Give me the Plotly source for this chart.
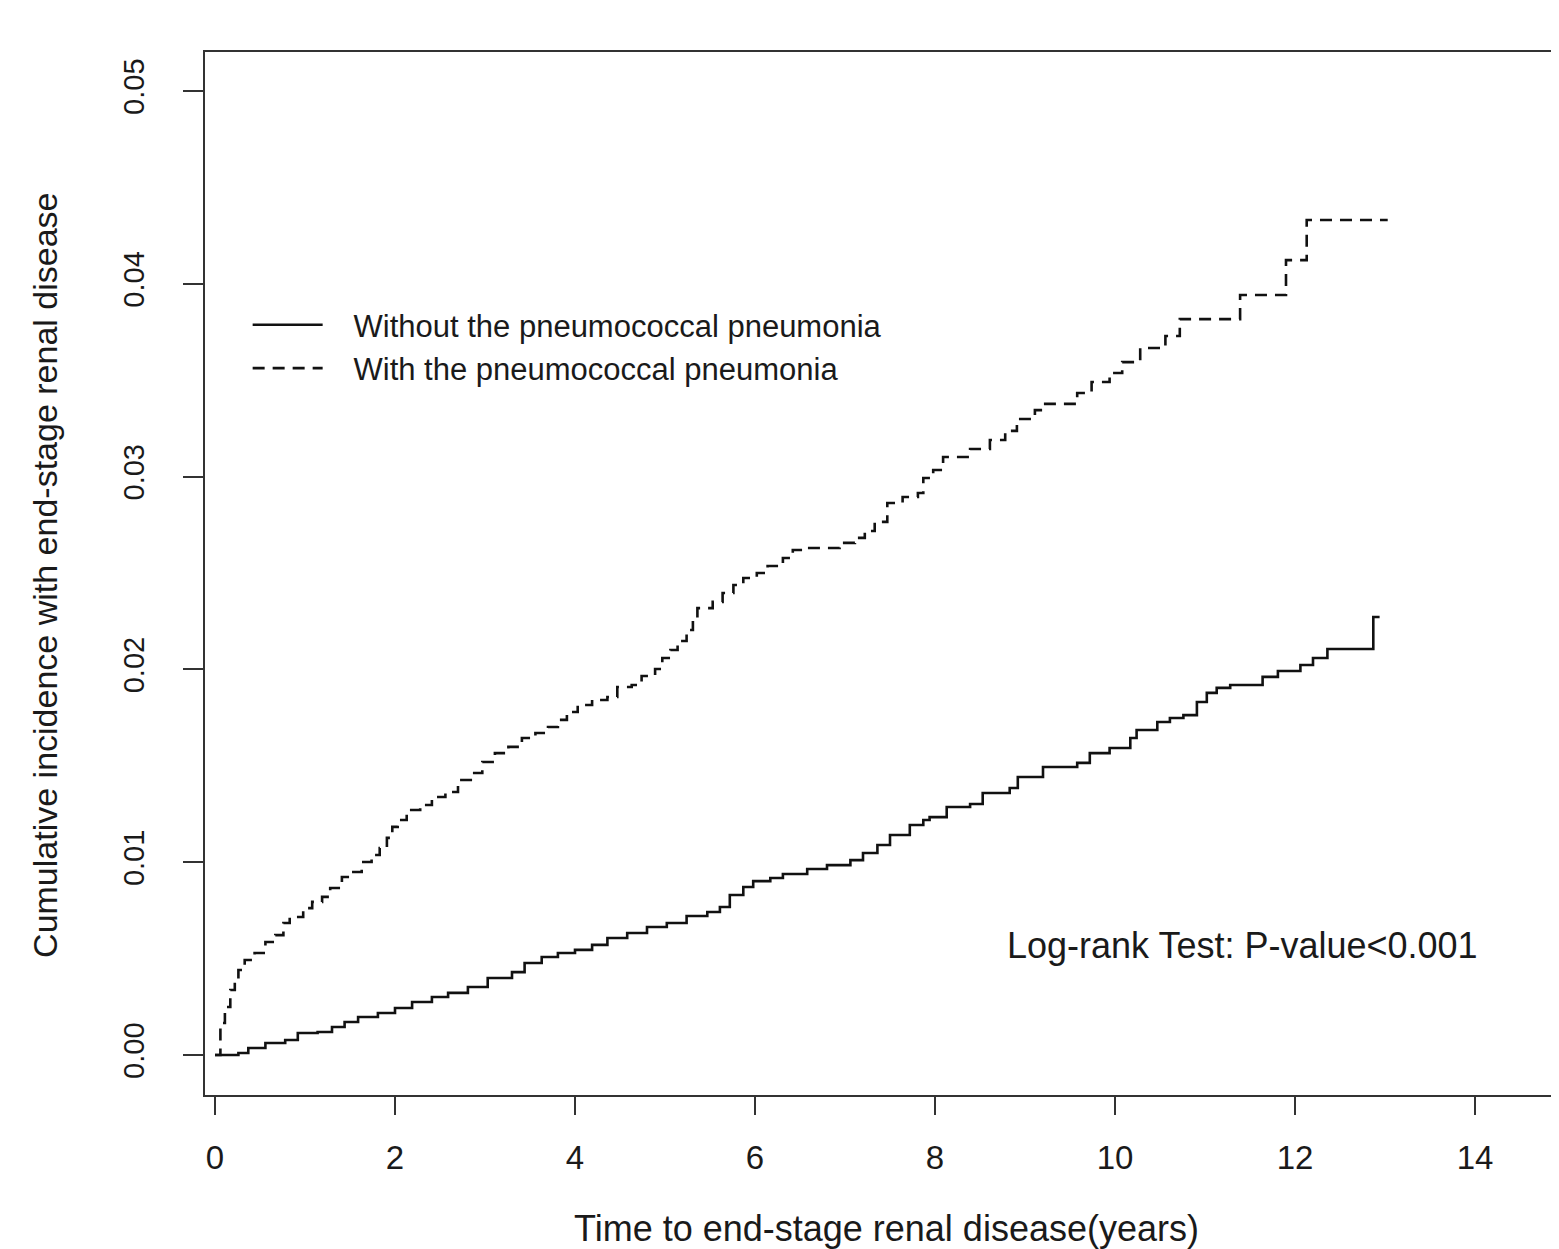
import plotly.graph_objects as go

# ---- data (time in years, cumulative incidence) ----
with_time = [0.0, 0.02, 0.06, 0.11, 0.17, 0.22, 0.26, 0.33, 0.44, 0.56, 0.67, 0.76, 0.83,
             0.98, 1.08, 1.19, 1.28, 1.41, 1.52, 1.63, 1.74, 1.83, 1.91, 1.97, 2.03, 2.13,
             2.28, 2.41, 2.56, 2.70, 2.86, 2.97, 3.11, 3.26, 3.41, 3.56, 3.70, 3.81, 3.91,
             4.03, 4.19, 4.36, 4.47, 4.63, 4.74, 4.89, 4.97, 5.06, 5.14, 5.24, 5.31, 5.36,
             5.53, 5.64, 5.76, 5.87, 6.02, 6.14, 6.31, 6.42, 6.58, 6.94, 7.11, 7.22, 7.33,
             7.47, 7.64, 7.81, 7.87, 7.98, 8.09, 8.39, 8.61, 8.78, 8.91, 9.11, 9.20, 9.58,
             9.74, 9.94, 10.08, 10.28, 10.56, 10.72, 11.39, 11.90, 12.13, 13.03]
with_inc = [0.0, 0.0, 0.00166, 0.00249, 0.00337, 0.00389, 0.00441, 0.00493, 0.00529,
            0.00586, 0.00622, 0.00685, 0.00716, 0.00762, 0.00794, 0.00820, 0.00866, 0.00923,
            0.00949, 0.01001, 0.01037, 0.01074, 0.01126, 0.01183, 0.01219, 0.01271, 0.01297,
            0.01338, 0.01364, 0.01426, 0.01463, 0.01520, 0.01566, 0.01598, 0.01644, 0.01670,
            0.01701, 0.01738, 0.01779, 0.01815, 0.01841, 0.01857, 0.01909, 0.01919, 0.01966,
            0.02002, 0.02059, 0.02101, 0.02147, 0.02204, 0.02267, 0.02318, 0.02350, 0.02396,
            0.02438, 0.02474, 0.02500, 0.02536, 0.02578, 0.02619, 0.02630, 0.02656, 0.02682,
            0.02718, 0.02765, 0.02863, 0.02894, 0.02915, 0.02993, 0.03034, 0.03102, 0.03143,
            0.03190, 0.03237, 0.03299, 0.03345, 0.03377, 0.03434, 0.03491, 0.03537, 0.03594,
            0.03667, 0.03729, 0.03817, 0.03942, 0.04123, 0.04331, 0.04331]

without_time = [0.0, 0.02, 0.26, 0.37, 0.56, 0.78, 0.92, 1.14, 1.30, 1.44, 1.59, 1.81, 2.00,
                2.19, 2.41, 2.59, 2.81, 3.03, 3.30, 3.44, 3.63, 3.81, 4.00, 4.19, 4.36, 4.58,
                4.80, 5.02, 5.24, 5.47, 5.61, 5.72, 5.87, 5.98, 6.17, 6.31, 6.58, 6.80, 7.06,
                7.20, 7.36, 7.50, 7.72, 7.87, 7.94, 8.13, 8.39, 8.53, 8.83, 8.92, 9.20, 9.58,
                9.72, 9.94, 10.17, 10.24, 10.47, 10.61, 10.76, 10.91, 11.02, 11.13, 11.28,
                11.64, 11.81, 12.06, 12.20, 12.36, 12.87, 12.94]
without_inc = [0.0, 0.0, 0.00010, 0.00036, 0.00062, 0.00078, 0.00114, 0.00119, 0.00145,
               0.00171, 0.00197, 0.00218, 0.00244, 0.00275, 0.00301, 0.00322, 0.00353,
               0.00399, 0.00430, 0.00477, 0.00508, 0.00529, 0.00545, 0.00571, 0.00607,
               0.00633, 0.00664, 0.00685, 0.00721, 0.00742, 0.00768, 0.00830, 0.00871,
               0.00902, 0.00918, 0.00939, 0.00965, 0.00985, 0.01011, 0.01048, 0.01089,
               0.01141, 0.01193, 0.01219, 0.01234, 0.01286, 0.01302, 0.01359, 0.01385,
               0.01442, 0.01494, 0.01515, 0.01566, 0.01592, 0.01644, 0.01686, 0.01727,
               0.01748, 0.01763, 0.01831, 0.01878, 0.01904, 0.01919, 0.01961, 0.01992,
               0.02023, 0.02059, 0.02106, 0.02272, 0.02272]

x_ticks = [0, 2, 4, 6, 8, 10, 12, 14]
y_ticks = [0.00, 0.01, 0.02, 0.03, 0.04, 0.05]

label_without = "Without the pneumococcal pneumonia"
label_with = "With the pneumococcal pneumonia"
x_title = "Time to end-stage renal disease(years)"
y_title = "Cumulative incidence with end-stage renal disease"
test_text = "Log-rank Test: P-value<0.001"

FONT = "Liberation Sans, Arial, sans-serif"
INK = "#1a1a1a"
PAD = "\u00a0\u00a0\u00a0"

fig = go.Figure()
fig.add_trace(go.Scatter(x=without_time, y=without_inc, mode="lines", line_shape="hv",
                         name=PAD + label_without,
                         line=dict(color="#111111", width=2.6)))
fig.add_trace(go.Scatter(x=with_time, y=with_inc, mode="lines", line_shape="hv",
                         name=PAD + label_with,
                         line=dict(color="#111111", width=2.6, dash="12px,8px")))

fig.update_layout(
    width=1551, height=1241,
    margin=dict(l=197, r=0, t=44, b=154),
    paper_bgcolor="white", plot_bgcolor="white",
    font=dict(family=FONT, color=INK),
    showlegend=True,
    legend=dict(x=0.0315, y=0.764, xanchor="left", yanchor="top",
                bgcolor="rgba(0,0,0,0)", borderwidth=0,
                font=dict(family=FONT, size=31, color=INK),
                itemwidth=70, tracegroupgap=0),
    xaxis=dict(range=[-0.1111, 14.9333], tickvals=x_ticks,
               ticktext=[str(v) for v in x_ticks],
               showgrid=False, zeroline=False,
               showline=True, linecolor="#333333", linewidth=2, mirror=True,
               ticks="outside", ticklen=18, tickwidth=2, tickcolor="#333333",
               tickfont=dict(family=FONT, size=33, color=INK),
               ticklabelstandoff=14),
    yaxis=dict(range=[-0.0020747, 0.052023], tickvals=y_ticks,
               ticktext=["%.2f" % v for v in y_ticks],
               showgrid=False, zeroline=False,
               showline=True, linecolor="#333333", linewidth=2, mirror=False,
               ticks="outside", ticklen=20, tickwidth=2, tickcolor="#333333",
               tickangle=-90,
               tickfont=dict(family=FONT, size=29, color=INK),
               ticklabelstandoff=27),
    annotations=[
        dict(text=test_text, x=8.78, y=0.0057, xref="x", yref="y",
             xanchor="left", yanchor="middle", showarrow=False,
             font=dict(family=FONT, size=36, color=INK)),
        dict(text=y_title, x=-0.1182, y=0.4986, xref="paper", yref="paper",
             xanchor="center", yanchor="middle", textangle=-90, showarrow=False,
             font=dict(family=FONT, size=34, color=INK)),
        dict(text=x_title, x=0.503, y=-0.128, xref="paper", yref="paper",
             xanchor="center", yanchor="middle", showarrow=False,
             font=dict(family=FONT, size=36, color=INK)),
    ],
)

fig.write_html("out.html")
